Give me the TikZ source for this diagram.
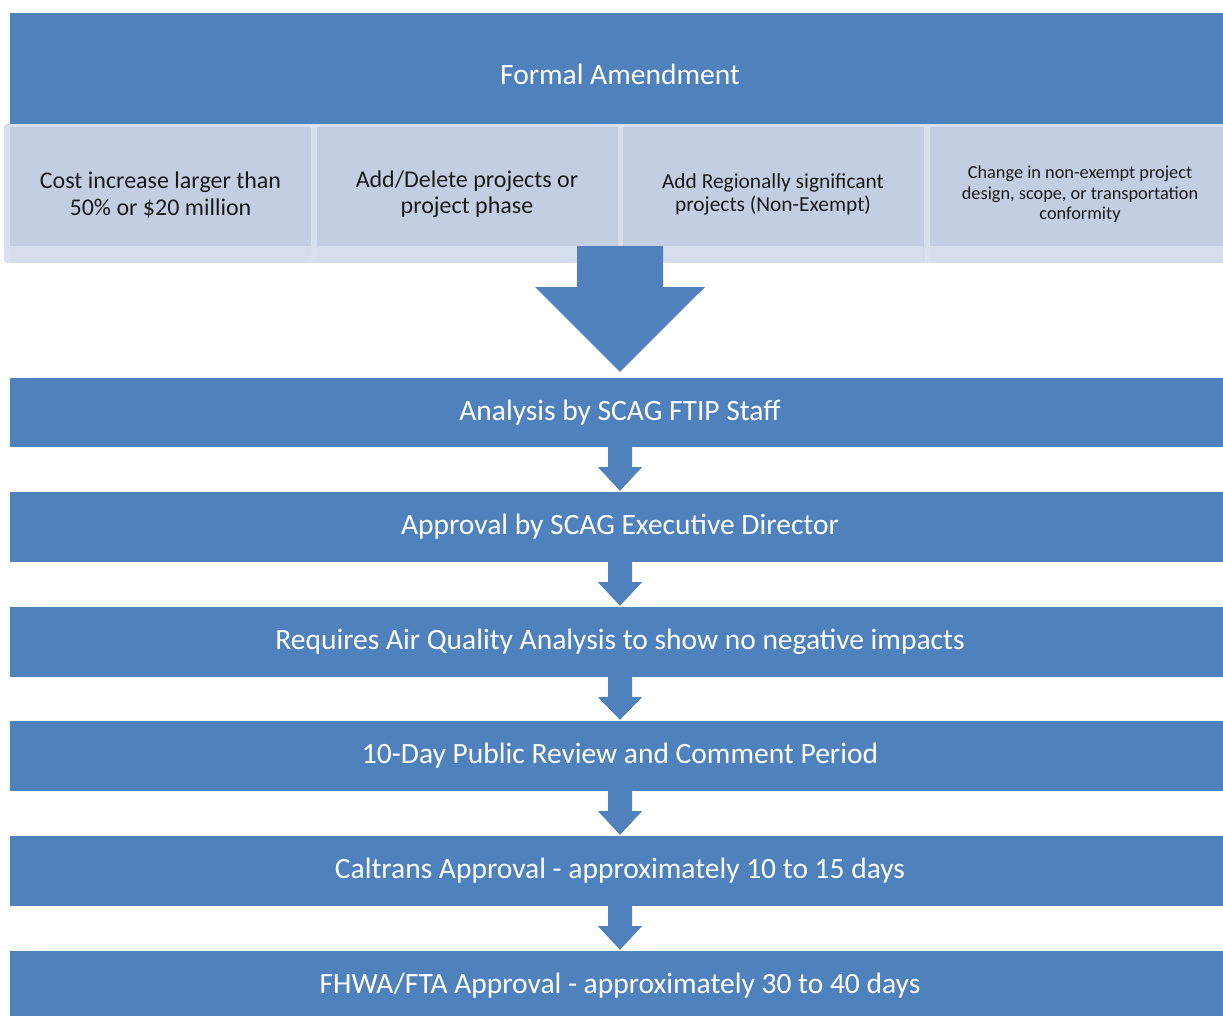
\documentclass[tikz,border=0pt]{standalone}
\usepackage{fontspec}
\setmainfont{Carlito}
\usetikzlibrary{calc}
\definecolor{barblue}{RGB}{79,129,189}
\definecolor{boxfill}{RGB}{196,206,226}
\definecolor{stripfill}{RGB}{214,221,236}
\definecolor{panelfill}{RGB}{216,223,237}
\tikzset{
  bar/.style={fill=barblue, text=white, minimum width=1220pt, inner sep=0pt, font=\fontsize{29.5}{34}\selectfont},
  condbox/.style={fill=boxfill, minimum width=301pt, minimum height=135pt, inner sep=0pt, align=center,
    text=black!90,
    path picture={\fill[stripfill] (path picture bounding box.south west) rectangle ($(path picture bounding box.south east)+(0,-16)$);}},
  flowarrow/.style={fill=barblue},
}
\begin{document}
\begin{tikzpicture}[x=1pt,y=-1pt]
\useasboundingbox (0,0) rectangle (1223,1015);
\clip (0,0) rectangle (1223,1015);
% header
\node[bar, minimum height=111pt, text height=36pt, text depth=4pt] (head) at (620,68.5) {Formal Amendment};
% panel
\fill[panelfill, rounded corners=3pt] (4,124) rectangle (1240,263);
\node[condbox, font=\fontsize{24}{27}\selectfont] (c1) at (160.5,194.5) {Cost increase larger than\\50\% or \$20 million};
\node[condbox, font=\fontsize{24}{26}\selectfont] (c2) at (467,194.5) {Add/Delete projects or\\project phase};
\node[condbox, font=\fontsize{21.4}{23}\selectfont] (c3) at (773,194.5) {Add Regionally significant\\projects (Non-Exempt)};
\node[condbox, font=\fontsize{18.3}{20.5}\selectfont] (c4) at (1080,194.5) {Change in non-exempt project\\design, scope, or transportation\\conformity};
% steps
\node[bar, minimum height=69pt] (s1) at (620,412.5) {Analysis by SCAG FTIP Staff};
\node[bar, minimum height=70pt] (s2) at (620,527) {Approval by SCAG Executive Director};
\node[bar, minimum height=70pt] (s3) at (620,642) {Requires Air Quality Analysis to show no negative impacts};
\node[bar, minimum height=70pt] (s4) at (620,756) {10-Day Public Review and Comment Period};
\node[bar, minimum height=70pt] (s5) at (620,871) {Caltrans Approval - approximately 10 to 15 days};
\node[bar, minimum height=70pt] (s6) at (620,986) {FHWA/FTA Approval - approximately 30 to 40 days};
% big arrow from conditions to first step
\coordinate (bigtop) at (620,246);
\fill[flowarrow] ($(bigtop)+(-43,0)$) -- ($(bigtop)+(43,0)$) -- ($(bigtop)+(43,41)$) -- ($(bigtop)+(85,41)$)
   -- ($(s1.north)+(0,-6)$) -- ($(bigtop)+(-85,41)$) -- ($(bigtop)+(-43,41)$) -- cycle;
% small arrows
\foreach \a/\b in {s1/s2,s2/s3,s3/s4,s4/s5,s5/s6}{
  \fill[flowarrow] ($(\a.south)+(-12,0)$) -- ($(\a.south)+(12,0)$) -- ($(\a.south)+(12,20)$) -- ($(\a.south)+(22,20)$)
     -- ($(\b.north)+(0,-1)$) -- ($(\a.south)+(-22,20)$) -- ($(\a.south)+(-12,20)$) -- cycle;
}
\end{tikzpicture}
\end{document}
